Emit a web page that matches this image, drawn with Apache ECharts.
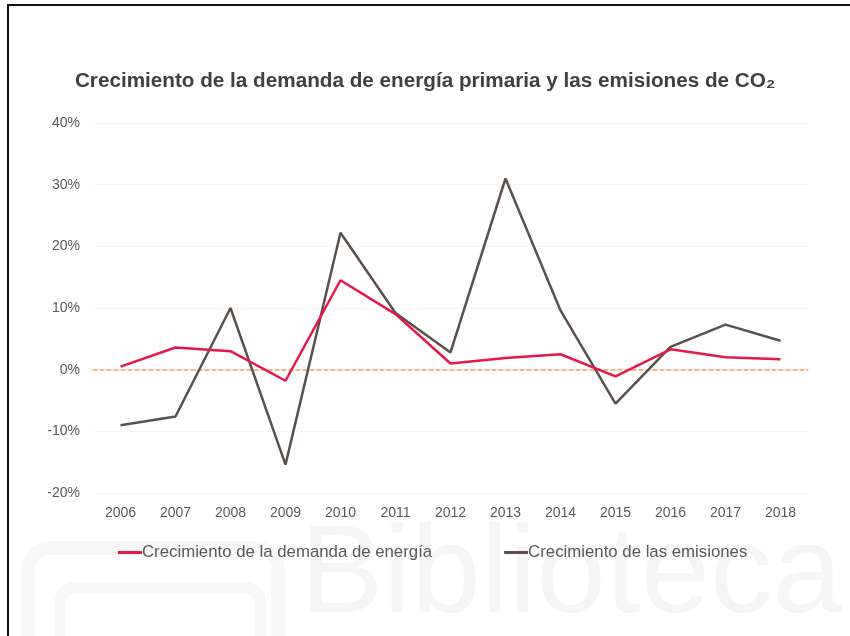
<!DOCTYPE html>
<html lang="es">
<head>
    <meta charset="UTF-8">
    <title>Demanda de energía y emisiones</title>
    <script src="https://cdn.jsdelivr.net/npm/echarts@6/dist/echarts.min.js"></script>
    <style>
        html, body { margin: 0; padding: 0; background: #fff; }
    </style>
</head>
<body>
<div id="main" style="width: 850px;height:636px;"></div>
<script>
    var years = ['2006', '2007', '2008', '2009', '2010', '2011', '2012', '2013', '2014', '2015', '2016', '2017', '2018'];
    var demanda = [0.5, 3.6, 3.0, -1.8, 14.5, 9.0, 1.0, 1.9, 2.5, -1.1, 3.3, 2.0, 1.7];
    var emisiones = [-9.0, -7.6, 10.0, -15.4, 22.2, 9.2, 2.8, 31.0, 9.6, -5.5, 3.7, 7.3, 4.7];
    var nombres = ['Crecimiento de la demanda de energía', 'Crecimiento de las emisiones'];

    var myChart = echarts.init(document.getElementById('main'));
    var font = 'Liberation Sans, Arial, sans-serif';

    option = {
        backgroundColor: '#fff',
        animation: false,
        title: {
            text: 'Crecimiento de la demanda de energía primaria y las emisiones de CO₂',
            left: 'center',
            top: 66,
            textStyle: { fontFamily: font, fontSize: 20.7, fontWeight: 'bold', color: '#404040' }
        },
        graphic: [
            // faint watermark (logo + word)
            {
                type: 'rect', z: -10, silent: true,
                shape: { x: 28, y: 548, width: 250, height: 120, r: 22 },
                style: { fill: 'none', stroke: '#f7f7f7', lineWidth: 14 }
            },
            {
                type: 'rect', z: -10, silent: true,
                shape: { x: 60, y: 588, width: 200, height: 80, r: 14 },
                style: { fill: 'none', stroke: '#f7f7f7', lineWidth: 12 }
            },
            {
                type: 'text', left: 300, top: 515, z: -10, silent: true,
                style: { text: 'Biblioteca', fontFamily: font, fontSize: 125, fill: '#f5f5f5' }
            },
            // frame
            { type: 'rect', shape: { x: 7, y: 4, width: 2, height: 640 }, style: { fill: '#111' } },
            { type: 'rect', shape: { x: 7, y: 4, width: 850, height: 2 }, style: { fill: '#111' } }
        ],
        legend: {
            data: nombres,
            top: 539,
            left: 113,
            itemGap: 72,
            itemWidth: 24,
            itemHeight: 3,
            icon: 'rect',
            textStyle: { fontFamily: font, fontSize: 16.8, color: '#595959', padding: [0, 0, 0, -5] }
        },
        grid: { left: 93, right: 42, top: 123, bottom: 143 },
        xAxis: [
            {
                // dashed line at 0%
                type: 'category',
                data: years,
                boundaryGap: true,
                axisLine: { show: true, onZero: true, lineStyle: { color: '#f6a060', type: [4, 3], width: 1.5 } },
                axisTick: { show: false },
                axisLabel: { show: false }
            },
            {
                // year labels at the bottom
                type: 'category',
                data: years,
                boundaryGap: true,
                position: 'bottom',
                axisLine: { show: false },
                axisTick: { show: false },
                axisLabel: { fontFamily: font, fontSize: 14, color: '#595959', margin: 13 }
            }
        ],
        yAxis: {
            type: 'value',
            min: -20, max: 40, interval: 10,
            axisLine: { show: false },
            axisTick: { show: false },
            axisLabel: { formatter: '{value}%', fontFamily: font, fontSize: 14, color: '#595959', margin: 13 },
            splitLine: { lineStyle: { color: '#f6f6f6', width: 1 } }
        },
        series: [
            {
                name: nombres[0],
                type: 'line',
                data: demanda,
                symbol: 'none',
                color: '#e8174a',
                lineStyle: { width: 2.5, color: '#e8174a' },
                z: 3
            },
            {
                name: nombres[1],
                type: 'line',
                data: emisiones,
                symbol: 'none',
                color: '#5a514c',
                lineStyle: { width: 2.5, color: '#5a514c' },
                z: 2
            }
        ]
    };

    myChart.setOption(option);
</script>
</body>
</html>
